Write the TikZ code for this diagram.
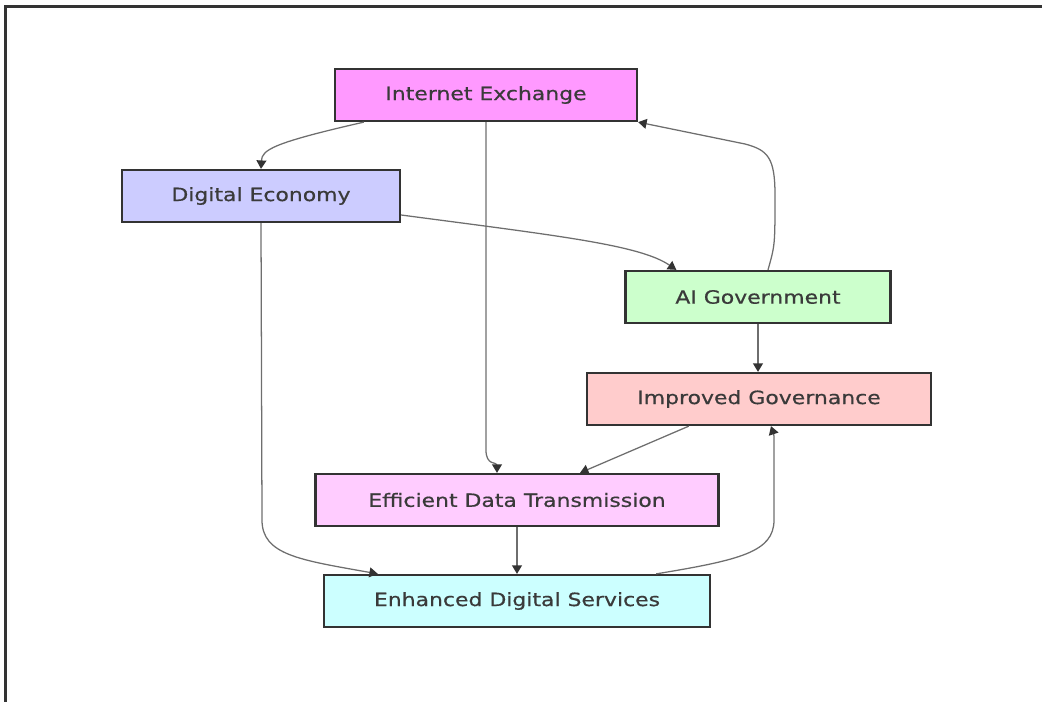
\documentclass[tikz,border=0pt]{standalone}
\usepackage{fontspec}
\setmainfont[FakeStretch=1.2,FakeBold=0.6]{DejaVu Sans}
\usepackage{tikz}
\usetikzlibrary{calc}
\usetikzlibrary{arrows.meta}
\definecolor{edgegray}{HTML}{6E6E6E}
\definecolor{boxline}{HTML}{333333}
\definecolor{boxtext}{HTML}{3A3A3A}
\tikzset{%
  myedge/.style={-{Triangle[width=7pt,length=6pt,color=boxline]}, draw=edgegray, line width=0.9pt},
  mynode/.style={rectangle, draw=boxline, line width=1.6pt, text=boxtext,
    minimum height=1.3cm, inner sep=0pt, font=\fontsize{13}{15}\selectfont}
}

\begin{document}
\begin{tikzpicture}[x=0.025cm, y=-0.025cm]

\useasboundingbox (0,0) rectangle (1042,702);
\draw [line width=1.6pt, color=boxline] (5.5,702) -- (5.5,6.5) -- (1042,6.5);

\node [mynode, fill={rgb,255:red,255;green,153;blue,255}, minimum width=7.55cm] (ie) at (486,95) {Internet Exchange};
\node [mynode, fill={rgb,255:red,204;green,204;blue,255}, minimum width=6.95cm] (de) at (261,196) {Digital Economy};
\node [mynode, fill={rgb,255:red,204;green,255;blue,204}, minimum width=6.625cm] (ai) at (758,297) {AI Government};
\node [mynode, fill={rgb,255:red,255;green,204;blue,204}, minimum width=8.6cm] (ig) at (759,399) {Improved Governance};
\node [mynode, fill={rgb,255:red,255;green,204;blue,255}, minimum width=10.075cm] (edt) at (517,500) {Efficient Data Transmission};
\node [mynode, fill={rgb,255:red,204;green,255;blue,255}, minimum width=9.65cm] (eds) at (517,601) {Enhanced Digital Services};

% Kanten
\draw [myedge] ($(ie.south west)+(30,0)$) .. controls (272,143) and (262,150) .. (de.north);
\draw [myedge] (ie.south) -- (486,450) .. controls (486,466) and (497,462) .. ($(edt.north)+(-20,0)$);
\draw [myedge] ($(de.east)+(0,19)$) .. controls (560,236) and (640,245) .. ($(ai.north west)+(52,0)$);
\draw [myedge] ($(ai.north)+(10,0)$) .. controls (775,245) .. (775,195)
  .. controls (775,158) and (768,150) .. (745,144) -- (ie.south east);
\draw [myedge] (ai.south) -- (ai.south |- ig.north);
\draw [myedge] ($(ig.south west)+(103,0)$) -- ($(edt.north)+(63,0)$);
\draw [myedge] (de.south) -- (262,520) .. controls (262,555) and (300,560) .. ($(eds.north west)+(55,0)$);
\draw [myedge] (edt.south) -- (eds.north);
\draw [myedge] ($(eds.north east)+(-55,0)$) .. controls (740,560) and (774,552) .. (774,520)
  -- (774,445) .. controls (774,435) .. ($(ig.south)+(12,0)$);
\end{tikzpicture}
\end{document}
